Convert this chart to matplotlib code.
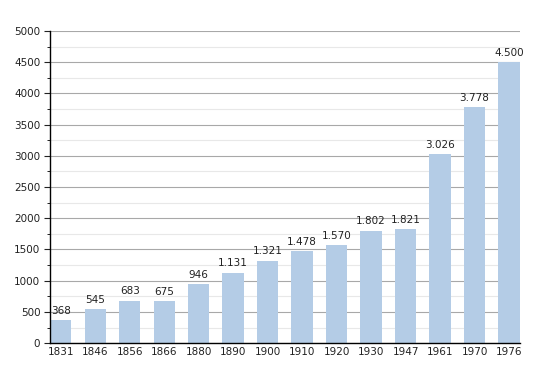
import matplotlib
matplotlib.use("Agg")
import matplotlib.pyplot as plt
from matplotlib.ticker import MultipleLocator

# population by census year
years = ["1831", "1846", "1856", "1866", "1880", "1890", "1900",
         "1910", "1920", "1930", "1947", "1961", "1970", "1976"]
population = [368, 545, 683, 675, 946, 1131, 1321,
              1478, 1570, 1802, 1821, 3026, 3778, 4500]

fig = plt.figure(figsize=(5.5, 3.73), dpi=100)
ax = fig.add_axes([0.091, 0.080, 0.854, 0.837])

w = 0.62
x = list(range(len(years)))
ax.set_axisbelow(True)
ax.grid(axis="y", which="major", color="#a8a8a8", linewidth=0.8)
ax.grid(axis="y", which="minor", color="#e8e8e8", linewidth=0.8)
bars = ax.bar(x, population, width=w, color="#b4cce6")

for xi, v in zip(x, population):
    lbl = f"{v:,}".replace(",", ".")
    ax.text(xi, v + 70, lbl, ha="center", va="bottom", fontsize=7.5, color="#222222")

ax.set_xlim(-w / 2, len(years) - 1 + w / 2)
ax.set_ylim(0, 5000)
ax.yaxis.set_major_locator(MultipleLocator(500))
ax.yaxis.set_minor_locator(MultipleLocator(250))
ax.set_xticks(x)
ax.set_xticklabels(years)
ax.tick_params(axis="both", labelsize=7.5, colors="#222222")
ax.tick_params(axis="x", length=0, pad=3)
ax.tick_params(axis="y", which="major", length=4, direction="out", pad=3)
ax.tick_params(axis="y", which="minor", length=2, direction="out")

for s in ["top", "right"]:
    ax.spines[s].set_visible(False)
ax.spines["left"].set_linewidth(1)
ax.spines["bottom"].set_linewidth(1)

plt.savefig("out.png", dpi=100)
